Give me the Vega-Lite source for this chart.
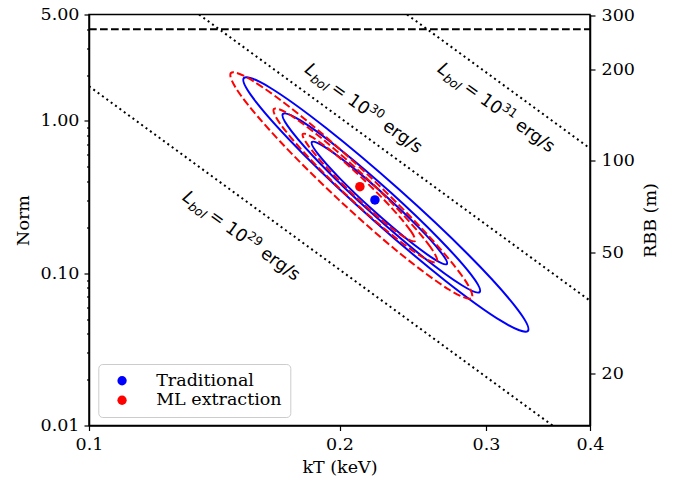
{
  "$schema": "https://vega.github.io/schema/vega-lite/v6.json",
  "width": 501,
  "height": 411,
  "autosize": {"type": "none"},
  "padding": {"left": 89, "top": 14.5, "right": 92, "bottom": 57.5},
  "background": "white",
  "config": {
    "view": {"stroke": "black", "strokeWidth": 1.5},
    "axis": {
      "grid": false,
      "labelFont": "DejaVu Serif",
      "labelFontSize": 17.5,
      "labelColor": "black",
      "titleFont": "DejaVu Serif",
      "titleFontSize": 17.5,
      "titleFontWeight": "normal",
      "titleColor": "black",
      "tickColor": "black",
      "tickWidth": 1.2,
      "domainColor": "black",
      "domainWidth": 1.5,
      "labelFlush": false,
      "labelOverlap": false,
      "labelBound": false
    }
  },
  "datasets": {
    "blue": [
      {"c": 3, "i": 0, "kT": 0.3368, "Norm": 0.04176},
      {"c": 3, "i": 1, "kT": 0.3254, "Norm": 0.0604},
      {"c": 3, "i": 2, "kT": 0.2857, "Norm": 0.1322},
      {"c": 3, "i": 3, "kT": 0.2359, "Norm": 0.3542},
      {"c": 3, "i": 4, "kT": 0.1929, "Norm": 0.8948},
      {"c": 3, "i": 5, "kT": 0.1649, "Norm": 1.658},
      {"c": 3, "i": 6, "kT": 0.1535, "Norm": 1.915},
      {"c": 3, "i": 7, "kT": 0.1589, "Norm": 1.324},
      {"c": 3, "i": 8, "kT": 0.181, "Norm": 0.6049},
      {"c": 3, "i": 9, "kT": 0.2192, "Norm": 0.2257},
      {"c": 3, "i": 10, "kT": 0.268, "Norm": 0.08934},
      {"c": 3, "i": 11, "kT": 0.3136, "Norm": 0.04822},
      {"c": 2, "i": 0, "kT": 0.2948, "Norm": 0.07531},
      {"c": 2, "i": 1, "kT": 0.288, "Norm": 0.09754},
      {"c": 2, "i": 2, "kT": 0.2632, "Norm": 0.1691},
      {"c": 2, "i": 3, "kT": 0.2305, "Norm": 0.3385},
      {"c": 2, "i": 4, "kT": 0.2004, "Norm": 0.6495},
      {"c": 2, "i": 5, "kT": 0.1797, "Norm": 1.0038},
      {"c": 2, "i": 6, "kT": 0.171, "Norm": 1.1107},
      {"c": 2, "i": 7, "kT": 0.1751, "Norm": 0.8577},
      {"c": 2, "i": 8, "kT": 0.1916, "Norm": 0.4947},
      {"c": 2, "i": 9, "kT": 0.2188, "Norm": 0.2472},
      {"c": 2, "i": 10, "kT": 0.2516, "Norm": 0.1288},
      {"c": 2, "i": 11, "kT": 0.2806, "Norm": 0.08335},
      {"c": 1, "i": 0, "kT": 0.2692, "Norm": 0.115},
      {"c": 1, "i": 1, "kT": 0.2648, "Norm": 0.1372},
      {"c": 1, "i": 2, "kT": 0.249, "Norm": 0.2},
      {"c": 1, "i": 3, "kT": 0.2273, "Norm": 0.3215},
      {"c": 1, "i": 4, "kT": 0.2066, "Norm": 0.503},
      {"c": 1, "i": 5, "kT": 0.1917, "Norm": 0.6776},
      {"c": 1, "i": 6, "kT": 0.1853, "Norm": 0.7274},
      {"c": 1, "i": 7, "kT": 0.1883, "Norm": 0.6095},
      {"c": 1, "i": 8, "kT": 0.2003, "Norm": 0.4183},
      {"c": 1, "i": 9, "kT": 0.2194, "Norm": 0.2598},
      {"c": 1, "i": 10, "kT": 0.2414, "Norm": 0.1663},
      {"c": 1, "i": 11, "kT": 0.2602, "Norm": 0.1233}
    ],
    "red": [
      {"c": 3, "i": 0, "kT": 0.2884, "Norm": 0.06877},
      {"c": 3, "i": 1, "kT": 0.2808, "Norm": 0.09593},
      {"c": 3, "i": 2, "kT": 0.2519, "Norm": 0.1932},
      {"c": 3, "i": 3, "kT": 0.2143, "Norm": 0.465},
      {"c": 3, "i": 4, "kT": 0.1805, "Norm": 1.0583},
      {"c": 3, "i": 5, "kT": 0.1576, "Norm": 1.824},
      {"c": 3, "i": 6, "kT": 0.1481, "Norm": 2.0645},
      {"c": 3, "i": 7, "kT": 0.1521, "Norm": 1.4805},
      {"c": 3, "i": 8, "kT": 0.1696, "Norm": 0.7351},
      {"c": 3, "i": 9, "kT": 0.1994, "Norm": 0.3054},
      {"c": 3, "i": 10, "kT": 0.2367, "Norm": 0.1342},
      {"c": 3, "i": 11, "kT": 0.271, "Norm": 0.07787},
      {"c": 2, "i": 0, "kT": 0.2618, "Norm": 0.1185},
      {"c": 2, "i": 1, "kT": 0.2572, "Norm": 0.1487},
      {"c": 2, "i": 2, "kT": 0.2389, "Norm": 0.2394},
      {"c": 2, "i": 3, "kT": 0.2142, "Norm": 0.435},
      {"c": 2, "i": 4, "kT": 0.1908, "Norm": 0.7612},
      {"c": 2, "i": 5, "kT": 0.1741, "Norm": 1.1025},
      {"c": 2, "i": 6, "kT": 0.1668, "Norm": 1.1978},
      {"c": 2, "i": 7, "kT": 0.1698, "Norm": 0.955},
      {"c": 2, "i": 8, "kT": 0.1827, "Norm": 0.5931},
      {"c": 2, "i": 9, "kT": 0.2039, "Norm": 0.3264},
      {"c": 2, "i": 10, "kT": 0.2289, "Norm": 0.1866},
      {"c": 2, "i": 11, "kT": 0.2509, "Norm": 0.1288},
      {"c": 1, "i": 0, "kT": 0.2464, "Norm": 0.1628},
      {"c": 1, "i": 1, "kT": 0.2434, "Norm": 0.1906},
      {"c": 1, "i": 2, "kT": 0.2314, "Norm": 0.2658},
      {"c": 1, "i": 3, "kT": 0.2147, "Norm": 0.4034},
      {"c": 1, "i": 4, "kT": 0.1982, "Norm": 0.5967},
      {"c": 1, "i": 5, "kT": 0.1861, "Norm": 0.7738},
      {"c": 1, "i": 6, "kT": 0.1807, "Norm": 0.8209},
      {"c": 1, "i": 7, "kT": 0.183, "Norm": 0.7015},
      {"c": 1, "i": 8, "kT": 0.1924, "Norm": 0.503},
      {"c": 1, "i": 9, "kT": 0.2074, "Norm": 0.3314},
      {"c": 1, "i": 10, "kT": 0.2246, "Norm": 0.224},
      {"c": 1, "i": 11, "kT": 0.2392, "Norm": 0.1727}
    ],
    "lum": [
      {"L": "29", "kT": 0.1, "Norm": 1.69},
      {"L": "29", "kT": 0.3606, "Norm": 0.01},
      {"L": "30", "kT": 0.1356, "Norm": 5},
      {"L": "30", "kT": 0.4, "Norm": 0.066},
      {"L": "31", "kT": 0.2411, "Norm": 5},
      {"L": "31", "kT": 0.4, "Norm": 0.66}
    ],
    "hline": [
      {"kT": 0.1, "Norm": 4.0},
      {"kT": 0.4, "Norm": 4.0}
    ],
    "pts": [
      {"method": "Traditional", "kT": 0.2206, "Norm": 0.3027},
      {"method": "ML extraction", "kT": 0.2116, "Norm": 0.37}
    ],
    "lbl": [
      {"exp": "29", "kT": 0.1292, "Norm": 0.3063},
      {"exp": "30", "kT": 0.1812, "Norm": 2.109},
      {"exp": "31", "kT": 0.2615, "Norm": 2.131}
    ],
    "rscale": [
      {"R": 20},
      {"R": 300}
    ]
  },
  "layer": [
    {
      "encoding": {
        "x": {
          "field": "kT",
          "type": "quantitative",
          "scale": {"type": "log", "domain": [0.1, 0.4], "nice": false},
          "axis": {
            "values": [0.1, 0.2, 0.3, 0.4],
            "format": ".1f",
            "tickSize": 5,
            "labelPadding": 5,
            "title": "kT (keV)",
            "titlePadding": 5
          }
        },
        "y": {
          "field": "Norm",
          "type": "quantitative",
          "scale": {"type": "log", "domain": [0.01, 5], "nice": false},
          "axis": {
            "orient": "left",
            "values": [0.01, 0.02, 0.03, 0.04, 0.05, 0.06, 0.07, 0.08, 0.09, 0.1, 0.2, 0.3, 0.4, 0.5, 0.6, 0.7, 0.8, 0.9, 1, 2, 3, 4, 5],
            "labelExpr": "(datum.value == 5 || datum.value == 1 || datum.value == 0.1 || datum.value == 0.01) ? format(datum.value, '.2f') : ''",
            "tickSize": {"condition": {"test": "datum.value == 5 || datum.value == 1 || datum.value == 0.1 || datum.value == 0.01", "value": 5}, "value": 2.5},
            "labelPadding": 5,
            "title": "Norm",
            "titlePadding": 8
          }
        }
      },
      "layer": [
        {
          "data": {"name": "lum"},
          "mark": {"type": "line", "color": "black", "strokeWidth": 2, "strokeDash": [2, 3.4], "clip": true},
          "encoding": {"detail": {"field": "L"}}
        },
        {
          "data": {"name": "hline"},
          "mark": {"type": "line", "color": "black", "strokeWidth": 2, "strokeDash": [7.7, 3.3], "clip": true},
          "encoding": {}
        },
        {
          "data": {"name": "blue"},
          "mark": {"type": "line", "color": "#0000ff", "strokeWidth": 2, "interpolate": "cardinal-closed", "clip": true},
          "encoding": {"detail": {"field": "c"}, "order": {"field": "i", "type": "quantitative"}}
        },
        {
          "data": {"name": "red"},
          "mark": {"type": "line", "color": "#ff0000", "strokeWidth": 2, "strokeDash": [7.7, 3.3], "interpolate": "cardinal-closed", "clip": true},
          "encoding": {"detail": {"field": "c"}, "order": {"field": "i", "type": "quantitative"}}
        },
        {
          "data": {"name": "pts"},
          "mark": {"type": "point", "filled": true, "size": 90, "opacity": 1},
          "encoding": {
            "color": {
              "field": "method",
              "type": "nominal",
              "scale": {"domain": ["Traditional", "ML extraction"], "range": ["#0000ff", "#ff0000"]},
              "legend": {
                "title": null,
                "orient": "none",
                "legendX": 9.3,
                "legendY": 349.5,
                "padding": 8,
                "strokeColor": "#cccccc",
                "fillColor": "white",
                "cornerRadius": 4,
                "symbolType": "circle",
                "symbolSize": 86,
                "symbolOffset": 7,
                "symbolStrokeWidth": 0,
                "symbolOpacity": 1,
                "labelOffset": 25.4,
                "labelFont": "DejaVu Serif",
                "labelFontSize": 17.5,
                "labelColor": "black",
                "rowPadding": 0.5
              }
            }
          }
        },
        {
          "data": {"name": "lbl"},
          "mark": {"type": "text", "text": "L", "font": "DejaVu Sans", "fontStyle": "italic", "fontSize": 17.5, "angle": 36, "align": "left", "baseline": "alphabetic", "color": "black"}
        },
        {
          "data": {"name": "lbl"},
          "mark": {"type": "text", "text": "bol", "font": "DejaVu Sans", "fontStyle": "italic", "fontSize": 12.25, "angle": 36, "align": "left", "baseline": "alphabetic", "dx": 10, "dy": 4, "color": "black"}
        },
        {
          "data": {"name": "lbl"},
          "mark": {"type": "text", "text": "= 10", "font": "DejaVu Sans", "fontSize": 17.5, "angle": 36, "align": "left", "baseline": "alphabetic", "dx": 32.5, "color": "black"}
        },
        {
          "data": {"name": "lbl"},
          "mark": {"type": "text", "font": "DejaVu Sans", "fontSize": 12.25, "angle": 36, "align": "left", "baseline": "alphabetic", "dx": 75, "dy": -7, "color": "black"},
          "encoding": {"text": {"field": "exp", "type": "nominal"}}
        },
        {
          "data": {"name": "lbl"},
          "mark": {"type": "text", "text": "erg/s", "font": "DejaVu Sans", "fontSize": 17.5, "angle": 36, "align": "left", "baseline": "alphabetic", "dx": 96.2, "color": "black"}
        }
      ]
    },
    {
      "data": {"name": "rscale"},
      "mark": {"type": "point", "opacity": 0},
      "encoding": {
        "y": {
          "field": "R",
          "type": "quantitative",
          "scale": {"type": "log", "domain": [13.52, 302.3], "nice": false},
          "axis": {
            "orient": "right",
            "values": [20, 50, 100, 200, 300],
            "format": "d",
            "tickSize": 5,
            "labelPadding": 6,
            "title": "RBB (m)",
            "titleAngle": 270,
            "titleBaseline": "top",
            "titlePadding": 7
          }
        }
      }
    }
  ],
  "resolve": {"scale": {"y": "independent"}}
}
